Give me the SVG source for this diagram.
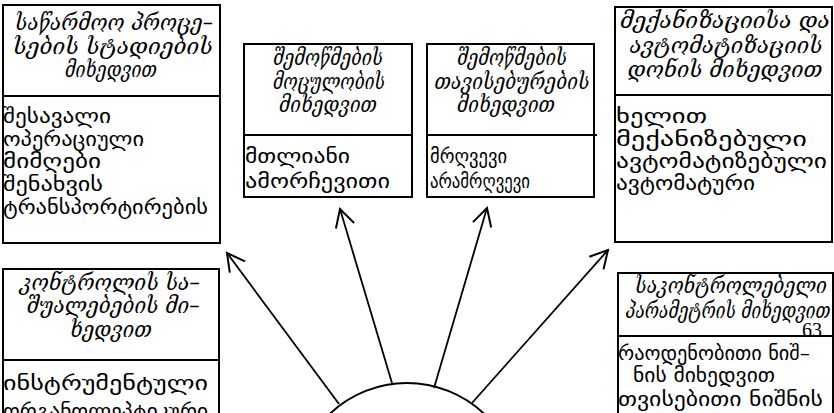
<svg xmlns="http://www.w3.org/2000/svg" width="834" height="413" viewBox="0 0 834 413">
<defs>
<style>
.box{fill:#fff;stroke:#000;stroke-width:2}
.div{stroke:#000;stroke-width:2}
.h{font-family:"DejaVu Serif","DejaVu Sans",serif;font-style:italic;font-size:22px;text-anchor:middle;fill:#000}
.b{font-family:"DejaVu Sans","Noto Sans",sans-serif;font-size:20px;fill:#000}
.conn line{stroke:#000;stroke-width:1.8;fill:none;marker-end:url(#arr)}
</style>
<marker id="arr" markerUnits="userSpaceOnUse" markerWidth="30" markerHeight="30" refX="20" refY="15" orient="auto" viewBox="0 0 30 30">
<path d="M2.5,5.5 L20,15 L2.5,24.5" fill="none" stroke="#000" stroke-width="2"/>
</marker>
</defs>
<rect width="834" height="413" fill="#fff"/>
<g id="center">
<circle cx="407" cy="495" r="112" fill="#fff" stroke="#000" stroke-width="2"/>
</g>
<g id="connectors" class="conn">
<line x1="339" y1="404" x2="227" y2="253"/>
<line x1="392" y1="383" x2="340" y2="209"/>
<line x1="434" y1="388" x2="487" y2="208"/>
<line x1="472" y1="403" x2="608" y2="250"/>
</g>
<g id="node1">
<rect class="box" x="3" y="5" width="217" height="238"/>
<line class="div" x1="3" y1="96" x2="221" y2="96"/>
<text class="h" x="114" y="30" textLength="198" lengthAdjust="spacingAndGlyphs">საწარმოო პროცე–</text>
<text class="h" x="113" y="54" textLength="200" lengthAdjust="spacingAndGlyphs">სების სტადიების</text>
<text class="h" x="111" y="77" textLength="92" lengthAdjust="spacingAndGlyphs">მიხედვით</text>
<text class="b" x="3" y="123" textLength="108" lengthAdjust="spacingAndGlyphs">შესავალი</text>
<text class="b" x="3" y="146" textLength="141" lengthAdjust="spacingAndGlyphs">ოპერაციული</text>
<text class="b" x="3" y="168" textLength="98" lengthAdjust="spacingAndGlyphs">მიმღები</text>
<text class="b" x="3" y="191" textLength="100" lengthAdjust="spacingAndGlyphs">შენახვის</text>
<text class="b" x="3" y="214" textLength="205" lengthAdjust="spacingAndGlyphs">ტრანსპორტირების</text>
</g>
<g id="node2">
<rect class="box" x="244" y="44" width="168" height="153"/>
<line class="div" x1="244" y1="135" x2="412" y2="135"/>
<text class="h" x="328" y="65" textLength="110" lengthAdjust="spacingAndGlyphs">შემოწმების</text>
<text class="h" x="329" y="89" textLength="112" lengthAdjust="spacingAndGlyphs">მოცულობის</text>
<text class="h" x="328" y="112" textLength="98" lengthAdjust="spacingAndGlyphs">მიხედვით</text>
<text class="b" x="245" y="163" textLength="105" lengthAdjust="spacingAndGlyphs">მთლიანი</text>
<text class="b" x="245" y="188" textLength="145" lengthAdjust="spacingAndGlyphs">ამორჩევითი</text>
</g>
<g id="node3">
<rect class="box" x="427" y="44" width="167" height="153"/>
<line class="div" x1="427" y1="135" x2="597" y2="135"/>
<text class="h" x="512" y="65" textLength="110" lengthAdjust="spacingAndGlyphs">შემოწმების</text>
<text class="h" x="512" y="89" textLength="155" lengthAdjust="spacingAndGlyphs">თავისებურების</text>
<text class="h" x="506" y="112" textLength="98" lengthAdjust="spacingAndGlyphs">მიხედვით</text>
<text class="b" x="430" y="163" textLength="77" lengthAdjust="spacingAndGlyphs">მრღვევი</text>
<text class="b" x="430" y="188" textLength="100" lengthAdjust="spacingAndGlyphs">არამრღვევი</text>
</g>
<g id="node4">
<rect class="box" x="615" y="7" width="217" height="235"/>
<line class="div" x1="615" y1="95" x2="832" y2="95"/>
<text class="h" x="725" y="28" textLength="210" lengthAdjust="spacingAndGlyphs">მექანიზაციისა და</text>
<text class="h" x="726" y="53" textLength="193" lengthAdjust="spacingAndGlyphs">ავტომატიზაციის</text>
<text class="h" x="725" y="77" textLength="195" lengthAdjust="spacingAndGlyphs">დონის მიხედვით</text>
<text class="b" x="616" y="123" textLength="91" lengthAdjust="spacingAndGlyphs">ხელით</text>
<text class="b" x="616" y="146" textLength="191" lengthAdjust="spacingAndGlyphs">მექანიზებული</text>
<text class="b" x="616" y="168" textLength="211" lengthAdjust="spacingAndGlyphs">ავტომატიზებული</text>
<text class="b" x="616" y="190" textLength="139" lengthAdjust="spacingAndGlyphs">ავტომატური</text>
</g>
<g id="node5">
<rect class="box" x="3" y="269" width="216" height="160"/>
<line class="div" x1="3" y1="360" x2="219" y2="360"/>
<text class="h" x="110" y="290" textLength="180" lengthAdjust="spacingAndGlyphs">კონტროლის სა–</text>
<text class="h" x="113" y="313" textLength="173" lengthAdjust="spacingAndGlyphs">შუალებების მი–</text>
<text class="h" x="111" y="337" textLength="82" lengthAdjust="spacingAndGlyphs">ხედვით</text>
<text class="b" x="3" y="390" textLength="205" lengthAdjust="spacingAndGlyphs">ინსტრუმენტული</text>
<text class="b" x="3" y="418" textLength="205" lengthAdjust="spacingAndGlyphs">ორგანოლეპტიკური</text>
</g>
<g id="node6">
<rect class="box" x="618" y="273" width="215" height="160"/>
<line class="div" x1="618" y1="336" x2="833" y2="336"/>
<text class="h" x="731" y="293" textLength="192" lengthAdjust="spacingAndGlyphs">საკონტროლებელი</text>
<text class="h" x="728" y="318" textLength="205" lengthAdjust="spacingAndGlyphs">პარამეტრის მიხედვით</text>
<text x="802" y="337" font-family="Liberation Serif,serif" font-size="20">63</text>
<text class="b" x="618" y="360" textLength="192" lengthAdjust="spacingAndGlyphs">რაოდენობითი ნიშ–</text>
<text class="b" x="633" y="382" textLength="142" lengthAdjust="spacingAndGlyphs">ნის მიხედვით</text>
<text class="b" x="618" y="406" textLength="205" lengthAdjust="spacingAndGlyphs">თვისებითი ნიშნის</text>
</g>
</svg>
